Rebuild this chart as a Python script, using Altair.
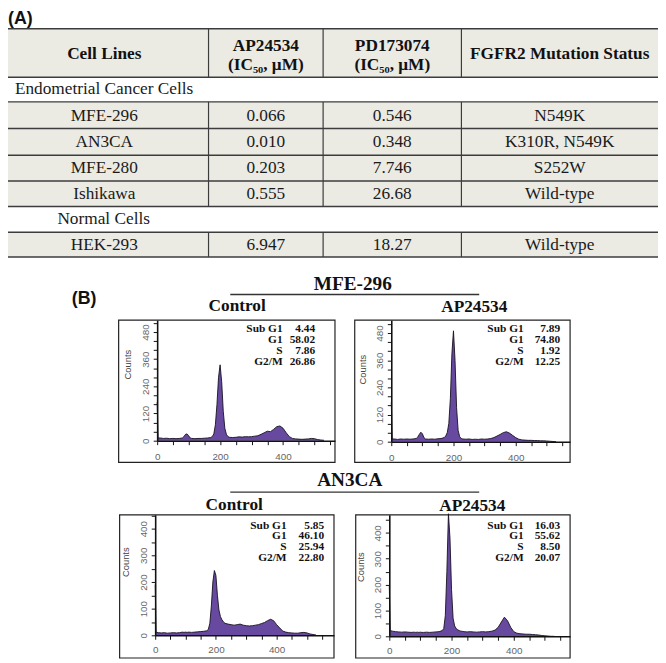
import altair as alt
import pandas as pd

# ---------------- data: table (A) ----------------
header_cols = ["Cell Lines", "AP24534", "PD173074", "FGFR2 Mutation Status"]
ic50_unit = "(IC₅₀, μM)"
groups = ["Endometrial  Cancer Cells", "Normal Cells"]
cell_lines = ["MFE-296", "AN3CA", "MFE-280", "Ishikawa", "HEK-293"]
cell_group = [0, 0, 0, 0, 1]
ap24534_ic50 = ["0.066", "0.010", "0.203", "0.555", "6.947"]
pd173074_ic50 = ["0.546", "0.348", "7.746", "26.68", "18.27"]
fgfr2_status = ["N549K", "K310R, N549K", "S252W", "Wild-type", "Wild-type"]

# ---------------- data: cell cycle histograms (B) ----------------
phases = ["Sub G1", "G1", "S", "G2/M"]
stats_mfe296_control = [4.44, 58.02, 7.86, 26.86]
stats_mfe296_ap24534 = [7.89, 74.80, 1.92, 12.25]
stats_an3ca_control = [5.85, 46.10, 25.94, 22.80]
stats_an3ca_ap24534 = [16.03, 55.62, 8.50, 20.07]

dna_channel = [0, 3, 10, 20, 30, 40, 50, 60, 70, 80,
               85, 90, 95, 100, 105,
               110, 120, 130, 140, 150, 160, 170,
               175, 180, 185, 190, 195, 200, 205, 210, 215, 220, 225,
               230, 240, 250, 260, 270, 280, 290, 300, 310, 320,
               330, 340, 350, 360, 370, 380, 390, 400, 410, 420,
               430, 440, 450, 460, 470, 480, 490, 500, 510, 520, 530]

counts_mfe296_control = [170, 12, 12, 10, 11, 9, 10, 9, 10, 12,
                         18, 28, 30, 22, 12,
                         10, 9, 10, 10, 11, 12, 14,
                         18, 30, 70, 160, 280, 335, 260, 130, 55, 28, 18,
                         15, 14, 15, 17, 16, 18, 17, 18, 20, 22,
                         28, 35, 42, 40, 50, 62, 65, 55, 35, 18,
                         10, 8, 7, 6, 7, 8, 10, 9, 5, 3, 2]
counts_mfe296_ap24534 = [175, 12, 12, 10, 12, 11, 12, 11, 12, 14,
                         20, 32, 42, 35, 18,
                         12, 11, 12, 11, 13, 14, 18,
                         25, 40, 80, 190, 390, 490, 360, 150, 50, 22, 14,
                         12, 11, 12, 10, 11, 10, 12, 11, 12, 14,
                         18, 25, 32, 40, 44, 38, 28, 18, 11, 8,
                         7, 6, 6, 5, 5, 4, 4, 3, 2, 1, 0]
counts_an3ca_control = [190, 12, 10, 9, 10, 8, 9, 10, 9, 10,
                        11, 12, 11, 12, 11,
                        12, 11, 12, 13, 14, 15, 17,
                        22, 45, 110, 200, 243, 225, 150, 95, 70, 58, 50,
                        45, 42, 40, 38, 40, 42, 38, 36, 35, 36,
                        38, 40, 44, 48, 55, 60, 55, 40, 28, 16,
                        12, 10, 9, 8, 8, 10, 11, 9, 5, 3, 1]
counts_an3ca_ap24534 = [195, 22, 20, 18, 17, 16, 17, 16, 15, 16,
                        15, 16, 15, 16, 15,
                        15, 16, 15, 16, 17, 18, 22,
                        30, 80, 250, 474, 380, 180, 70, 40, 30, 25, 22,
                        20, 18, 17, 18, 17, 16, 17, 18, 17, 18,
                        20, 24, 35, 55, 74, 60, 35, 18, 12, 10,
                        9, 8, 8, 7, 6, 5, 3, 2, 1, 0, 0]

# ---------------- layout / style ----------------
W, H, M = 658, 655, 8          # chart size, page margin
SERIF = "'Liberation Serif', 'Times New Roman', Times, serif"
SANS = "'Liberation Sans', Arial, sans-serif"
PURPLE = "#674A9F"
TABLE_FILL = "#EBEAE3"
LINE = "#3c3c3c"


def P(v):
    """reference page pixel -> chart pixel"""
    return v - M


XS = dict(scale=None, axis=None)
YS = dict(scale=None, axis=None)


def text_layer(rows, **kw):
    df = pd.DataFrame(rows, columns=["t", "x", "y"])
    df["x"] = df["x"].map(P)
    df["y"] = df["y"].map(P)
    return alt.Chart(df).mark_text(**kw).encode(
        x=alt.X("x:Q", **XS), y=alt.Y("y:Q", **YS), text="t:N")


layers = []

# ---------------- table geometry ----------------
col_edges = [0, 211, 327, 467, 666]
col_mid = [(col_edges[i] + col_edges[i + 1]) / 2 for i in range(4)]
row_edges = [25, 74, 99, 126, 153, 179, 205, 231, 256]
group_indent = [15, 58]

rows = []
for gi, g in enumerate(groups):
    rows.append(("group", gi))
    for i in range(len(cell_lines)):
        if cell_group[i] == gi:
            rows.append(("line", i))

shaded = [(row_edges[0], row_edges[1])]
body_txt, group_txt = [], []
for k, (kind, idx) in enumerate(rows):
    top, bot = row_edges[k + 1], row_edges[k + 2]
    yc = (top + bot) / 2
    if kind == "group":
        group_txt.append((groups[idx], group_indent[idx], yc))
    else:
        shaded.append((top, bot))
        vals = [cell_lines[idx], ap24534_ic50[idx], pd173074_ic50[idx], fgfr2_status[idx]]
        for c, v in enumerate(vals):
            body_txt.append((v, col_mid[c], yc + 0.5))

shade_df = pd.DataFrame({"x": P(col_edges[0]), "x2": P(col_edges[-1]),
                         "y": [P(a) for a, b in shaded], "y2": [P(b) for a, b in shaded]})
layers.append(alt.Chart(shade_df).mark_rect(color=TABLE_FILL).encode(
    x=alt.X("x:Q", **XS), x2="x2:Q", y=alt.Y("y:Q", **YS), y2="y2:Q"))

blocks = []
for a, b in shaded:
    if blocks and abs(blocks[-1][1] - a) < 1:
        blocks[-1] = (blocks[-1][0], b)
    else:
        blocks.append((a, b))
vdf = pd.DataFrame([(P(x), P(a), P(b)) for a, b in blocks for x in col_edges[1:-1]],
                   columns=["x", "y", "y2"])
layers.append(alt.Chart(vdf).mark_rule(color=LINE, strokeWidth=1.2).encode(
    x=alt.X("x:Q", **XS), y=alt.Y("y:Q", **YS), y2="y2:Q"))

hdf = pd.DataFrame({"x": P(col_edges[0]), "x2": P(col_edges[-1]), "y": [P(e) for e in row_edges]})
layers.append(alt.Chart(hdf).mark_rule(color=LINE, strokeWidth=1.5).encode(
    x=alt.X("x:Q", **XS), x2="x2:Q", y=alt.Y("y:Q", **YS)))

hy = (row_edges[0] + row_edges[1]) / 2
head_txt = [(header_cols[0], col_mid[0], hy + 1),
            (header_cols[1], col_mid[1], hy - 7.5), (ic50_unit, col_mid[1], hy + 12.5),
            (header_cols[2], col_mid[2], hy - 7.5), (ic50_unit, col_mid[2], hy + 12.5),
            (header_cols[3], col_mid[3], hy + 1)]
layers.append(text_layer(head_txt, font=SERIF, fontSize=17.5, fontWeight="bold", color="#111"))
layers.append(text_layer(body_txt, font=SERIF, fontSize=17.5, color="#1a1a1a"))
layers.append(text_layer(group_txt, font=SERIF, fontSize=17.5, color="#1a1a1a", align="left"))

# panel letters
layers.append(text_layer([("(A)", 8, 15)], font=SANS, fontSize=18, fontWeight="bold",
                         align="left", color="#111"))
layers.append(text_layer([("(B)", 85, 299)], font=SANS, fontSize=18, fontWeight="bold",
                         color="#111"))

# ---------------- histogram panels ----------------
panels = [
    dict(counts=counts_mfe296_control, stats=stats_mfe296_control, box=(120, 339, 320, 464),
         yaxis=159, base=442, xmax=565, ymax=532, ystep=40, ylab=120, lab_r=286, val_r=319,
         row0=329, rowstep=11, counts_pos=(130, 365), xpad=7),
    dict(counts=counts_mfe296_ap24534, stats=stats_mfe296_ap24534, box=(359, 577, 320, 464),
         yaxis=396, base=443, xmax=575, ymax=537, ystep=40, ylab=120, lab_r=530, val_r=567,
         row0=329, rowstep=11, counts_pos=(367, 370), xpad=7),
    dict(counts=counts_an3ca_control, stats=stats_an3ca_control, box=(121, 338, 517, 662),
         yaxis=157, base=639, xmax=589, ymax=452, ystep=50, ylab=100, lab_r=290, val_r=328,
         row0=528, rowstep=11, counts_pos=(127, 565), xpad=5),
    dict(counts=counts_an3ca_ap24534, stats=stats_an3ca_ap24534, box=(360, 577, 517, 662),
         yaxis=394, base=640, xmax=581, ymax=470, ystep=50, ylab=100, lab_r=530, val_r=567,
         row0=528, rowstep=11, counts_pos=(365, 570), xpad=5),
]

box_df = pd.DataFrame([(P(b["box"][0]), P(b["box"][1]), P(b["box"][2]), P(b["box"][3])) for b in panels],
                      columns=["x", "x2", "y", "y2"])
layers.append(alt.Chart(box_df).mark_rect(fillOpacity=0, stroke="#222", strokeWidth=1.2).encode(
    x=alt.X("x:Q", **XS), x2="x2:Q", y=alt.Y("y:Q", **YS), y2="y2:Q"))

lab_txt, val_txt, cnt_txt = [], [], []
for pnl in panels:
    for r, (ph, v) in enumerate(zip(phases, pnl["stats"])):
        yy = pnl["row0"] + r * pnl["rowstep"]
        lab_txt.append((ph, pnl["lab_r"], yy))
        val_txt.append((f"{v:.2f}", pnl["val_r"], yy))
    cnt_txt.append(("Counts", pnl["counts_pos"][0], pnl["counts_pos"][1]))

for pnl in panels:
    df = pd.DataFrame({"channel": dna_channel, "counts": pnl["counts"]})
    yvals = list(range(0, pnl["ymax"] + 1, pnl["ystep"]))
    base = alt.Chart(df).encode(
        x=alt.X("channel:Q",
                scale=alt.Scale(domain=[0, pnl["xmax"]], range=[P(pnl["yaxis"]), P(pnl["box"][1])],
                                nice=False, zero=False),
                axis=alt.Axis(orient="bottom", offset=-(H - P(pnl["base"])),
                              values=list(range(0, 551, 50)),
                              labelExpr="datum.value % 200 === 0 ? datum.label : ''",
                              labelFlush=False, labelOverlap=False, tickSize=4,
                              labelPadding=pnl["xpad"], labelFontSize=10, labelColor="#666",
                              labelFont=SANS, domainColor="#111", domainWidth=1.4,
                              tickColor="#111", grid=False, title=None, zindex=2)),
        y=alt.Y("counts:Q",
                scale=alt.Scale(domain=[0, pnl["ymax"]], range=[P(pnl["base"]), P(pnl["box"][2])],
                                nice=False),
                axis=alt.Axis(orient="left", offset=-P(pnl["yaxis"]), values=yvals,
                              labelExpr=f"datum.value % {pnl['ylab']} === 0 ? datum.label : ''",
                              labelAngle=-90, labelAlign="center", labelBaseline="bottom",
                              labelOverlap=False, labelFlush=False, tickSize=4, labelPadding=3,
                              labelFontSize=10, labelColor="#666", labelFont=SANS,
                              domainColor="#111", domainWidth=1.6, tickColor="#111",
                              grid=False, title=None, zindex=2)),
    )
    layers.append(alt.layer(
        base.mark_area(color=PURPLE, interpolate="linear"),
        base.mark_line(color="#151020", strokeWidth=0.9, interpolate="linear"),
    ))

layers.append(text_layer(lab_txt, font=SERIF, fontSize=11.5, fontWeight="bold", align="right", color="#111"))
layers.append(text_layer(val_txt, font=SERIF, fontSize=11.5, fontWeight="bold", align="right", color="#111"))
layers.append(text_layer(cnt_txt, font=SANS, fontSize=9.5, angle=270, color="#444"))

# group titles, underlines, condition titles
layers.append(text_layer([("MFE-296", 357, 283), ("AN3CA", 354, 482)],
                         font=SERIF, fontSize=19.5, fontWeight="bold", color="#111"))
ul_df = pd.DataFrame({"x": [P(233), P(233)], "x2": [P(485), P(485)], "y": [P(294), P(494)]})
layers.append(alt.Chart(ul_df).mark_rule(color="#333", strokeWidth=1.4).encode(
    x=alt.X("x:Q", **XS), x2="x2:Q", y=alt.Y("y:Q", **YS)))
layers.append(text_layer([("Control", 240, 306), ("AP24534", 480, 307),
                          ("Control", 237, 507), ("AP24534", 478, 508)],
                         font=SERIF, fontSize=17.5, fontWeight="bold", color="#111"))

chart = alt.layer(*layers).resolve_scale(
    x="independent", y="independent"
).resolve_axis(
    x="independent", y="independent"
).properties(
    width=W, height=H, padding=0, autosize=alt.AutoSizeParams(type="none"),
    background="white",
).configure_view(stroke=None)

chart.save("out.html", embed_options={"renderer": "svg", "actions": False})
